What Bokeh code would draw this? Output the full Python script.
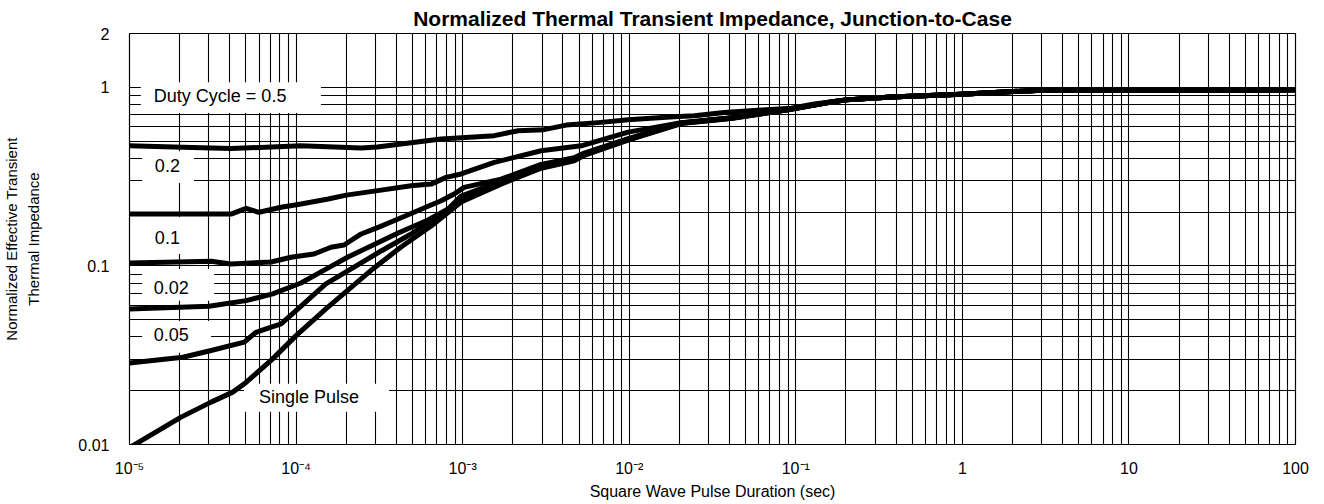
from bokeh.plotting import figure
from bokeh.models import FixedTicker, CustomJSTickFormatter, ColumnDataSource
from bokeh.core.properties import value
from bokeh.embed import file_html
from bokeh.resources import INLINE

FONT = "Liberation Sans"

# ---------------- data ----------------
x_ticks = [1e-5, 1e-4, 1e-3, 1e-2, 1e-1, 1, 10, 100]
x_tick_labels = ["10\u207b\u2075", "10\u207b\u2074", "10\u207b\u00b3", "10\u207b\u00b2", "10\u207b\u00b9", "1", "10", "100"]
y_ticks = [0.01, 0.1, 1, 2]
y_tick_labels = ["0.01", "0.1", "1", "2"]

# Duty cycle 0.5
d05_x = [1.0e-5, 2.09e-5, 4.07e-5, 1.07e-4, 2.46e-4, 3.07e-4, 4.27e-4, 7.43e-4, 1.55e-3, 2.15e-3,
         3.08e-3, 4.19e-3, 6.79e-3, 9.86e-3, 1.86e-2, 2.46e-2, 3.72e-2, 6.21e-2, 9.4e-2, 0.129,
         0.201, 0.374, 0.986, 2.98, 100]
d05_y = [0.470, 0.462, 0.454, 0.470, 0.457, 0.463, 0.481, 0.513, 0.536, 0.571,
         0.579, 0.614, 0.636, 0.658, 0.683, 0.692, 0.723, 0.745, 0.764, 0.806,
         0.850, 0.881, 0.915, 0.963, 0.967]

# Duty cycle 0.2
d02_x = [1.0e-5, 4.07e-5, 5.01e-5, 5.99e-5, 8.13e-5, 1.07e-4, 1.56e-4, 2.0e-4, 3.02e-4, 4.91e-4,
         6.47e-4, 7.96e-4, 9.79e-4, 1.55e-3, 2.96e-3, 5.15e-3, 9.86e-3, 2.05e-2, 4.1e-2, 9.0e-2,
         0.163, 0.201, 0.374, 0.986, 2.98, 100]
d02_y = [0.195, 0.195, 0.210, 0.1995, 0.213, 0.222, 0.237, 0.249, 0.263, 0.281,
         0.287, 0.313, 0.327, 0.380, 0.441, 0.470, 0.561, 0.634, 0.675, 0.752,
         0.828, 0.850, 0.881, 0.915, 0.963, 0.967]

# Duty cycle 0.1
d01_x = [1.0e-5, 3.09e-5, 4.07e-5, 7.08e-5, 9.33e-5, 1.28e-4, 1.62e-4, 1.94e-4, 2.46e-4, 3.11e-4,
         4.10e-4, 5.11e-4, 6.20e-4, 7.43e-4, 8.89e-4, 1.02e-3, 1.70e-3, 2.96e-3, 4.67e-3, 5.37e-3,
         9.86e-3, 2.05e-2, 4.1e-2, 9.0e-2, 0.163, 0.201, 0.374, 0.986, 2.98, 100]
d01_y = [0.1038, 0.1061, 0.1025, 0.1052, 0.1117, 0.1166, 0.1271, 0.1309, 0.1509, 0.1644,
         0.1830, 0.1995, 0.2156, 0.2317, 0.2525, 0.2753, 0.306, 0.370, 0.403, 0.428,
         0.515, 0.632, 0.674, 0.751, 0.827, 0.850, 0.881, 0.915, 0.963, 0.967]

# Curve beneath the "0.02" label
dA_x = [1.0e-5, 3.0e-5, 5.01e-5, 7.24e-5, 1.07e-4, 1.56e-4, 2.05e-4, 2.90e-4, 4.10e-4, 6.20e-4,
        8.18e-4, 9.79e-4, 1.70e-3, 2.96e-3, 4.67e-3, 5.37e-3, 9.86e-3, 2.05e-2, 4.1e-2, 9.0e-2,
        0.163, 0.201, 0.374, 0.986, 2.98, 100]
dA_y = [0.0574, 0.0594, 0.0639, 0.0697, 0.0802, 0.0974, 0.1122, 0.1309, 0.1528, 0.1806,
        0.2082, 0.246, 0.2985, 0.364, 0.398, 0.424, 0.512, 0.630, 0.672, 0.750,
        0.826, 0.850, 0.881, 0.915, 0.963, 0.967]

# Curve beneath the "0.05" label
dB_x = [1.0e-5, 2.09e-5, 3.09e-5, 4.89e-5, 5.75e-5, 6.60e-5, 8.13e-5, 1.0e-4, 1.23e-4, 1.51e-4,
        2.14e-4, 3.24e-4, 4.91e-4, 7.43e-4, 1.05e-3, 1.70e-3, 2.96e-3, 4.67e-3, 5.37e-3, 9.86e-3,
        2.05e-2, 4.1e-2, 9.0e-2, 0.163, 0.201, 0.374, 0.986, 2.98, 100]
dB_y = [0.0286, 0.0308, 0.0336, 0.0374, 0.0425, 0.0444, 0.0473, 0.0562, 0.0668, 0.0792,
        0.0961, 0.1212, 0.1509, 0.195, 0.2399, 0.2946, 0.358, 0.393, 0.420, 0.509,
        0.628, 0.670, 0.749, 0.826, 0.850, 0.881, 0.915, 0.963, 0.967]

# Single pulse
sp_x = [1.0e-5, 2.04e-5, 3.09e-5, 4.17e-5, 4.89e-5, 7.24e-5, 1.0e-4, 1.51e-4, 2.89e-4, 4.27e-4,
        6.47e-4, 9.79e-4, 1.70e-3, 2.96e-3, 4.67e-3, 5.37e-3, 9.86e-3, 2.05e-2, 4.1e-2, 9.0e-2,
        0.163, 0.201, 0.374, 0.986, 2.98, 100]
sp_y = [0.0096, 0.01423, 0.01727, 0.01964, 0.02186, 0.03016, 0.0407, 0.0574, 0.0961, 0.1276,
        0.1673, 0.2278, 0.287, 0.352, 0.388, 0.416, 0.506, 0.626, 0.668, 0.748,
        0.826, 0.850, 0.881, 0.915, 0.963, 0.967]

curves = [(d05_x, d05_y), (d02_x, d02_y), (d01_x, d01_y), (dA_x, dA_y), (dB_x, dB_y), (sp_x, sp_y)]

label_text = ["Duty Cycle = 0.5", "0.2", "0.1", "0.02", "0.05", "Single Pulse"]
label_x = [1.40e-5, 1.42e-5, 1.42e-5, 1.40e-5, 1.40e-5, 5.99e-5]
label_y = [0.89, 0.3635, 0.1433, 0.0759, 0.0411, 0.0185]
box_left = [1.17e-5, 1.19e-5, 1.19e-5, 1.19e-5, 1.19e-5, 4.87e-5]
box_right = [1.41e-4, 2.44e-5, 2.51e-5, 3.22e-5, 3.09e-5, 3.62e-4]
box_top = [1.068, 0.439, 0.1877, 0.0961, 0.0492, 0.0219]
box_bottom = [0.717, 0.2909, 0.1166, 0.0637, 0.0326, 0.01524]

# ---------------- figure ----------------
p = figure(x_axis_type="log", y_axis_type="log", x_range=(1e-5, 100), y_range=(0.01, 2),
           frame_width=1166, frame_height=411,
           min_border_left=124, min_border_right=20, min_border_top=26, min_border_bottom=56,
           output_backend="svg", toolbar_location=None,
           title="Normalized Thermal Transient Impedance, Junction-to-Case")
p.background_fill_color = "white"
p.border_fill_color = "white"
p.outline_line_color = "black"
p.outline_line_width = 1.2

p.title.align = "center"
p.title.text_font = FONT
p.title.text_font_size = "21px"
p.title.text_font_style = "bold"
p.title.text_color = "black"
p.title.standoff = 8

grid_x = [m * 10.0 ** e for e in range(-5, 2) for m in range(1, 10)] + [100]
grid_y = [m * 10.0 ** e for e in range(-2, 0) for m in range(1, 10)] + [1, 2]
p.xgrid.ticker = FixedTicker(ticks=grid_x)
p.ygrid.ticker = FixedTicker(ticks=grid_y)
for g in (p.xgrid, p.ygrid):
    g.grid_line_color = "black"
    g.grid_line_width = 1.1
    g.grid_line_alpha = 1.0

fmt_code = """
const i = tvals.findIndex((t) => Math.abs(Math.log10(t) - Math.log10(tick)) < 1e-6);
return i >= 0 ? tlabels[i] : "";
"""
p.xaxis.ticker = FixedTicker(ticks=x_ticks)
p.yaxis.ticker = FixedTicker(ticks=y_ticks)
p.xaxis.formatter = CustomJSTickFormatter(args=dict(tvals=x_ticks, tlabels=x_tick_labels), code=fmt_code)
p.yaxis.formatter = CustomJSTickFormatter(args=dict(tvals=y_ticks, tlabels=y_tick_labels), code=fmt_code)
for ax in (p.xaxis, p.yaxis):
    ax.axis_line_color = None
    ax.major_tick_line_color = None
    ax.minor_tick_line_color = None
    ax.major_tick_out = 0
    ax.major_tick_in = 0
    ax.minor_tick_out = 0
    ax.minor_tick_in = 0
    ax.major_label_text_font = FONT
    ax.major_label_text_font_size = "16px"
    ax.major_label_text_color = "black"
    ax.axis_label_text_font = FONT
    ax.axis_label_text_font_size = "15px"
    ax.axis_label_text_font_style = "normal"
    ax.axis_label_text_color = "black"

p.xaxis.axis_label = "Square Wave Pulse Duration (sec)"
p.xaxis.axis_label_text_font_size = "16px"
p.xaxis.major_label_standoff = 15
p.xaxis.axis_label_standoff = 3
p.yaxis.axis_label = "Normalized Effective Transient\nThermal Impedance"
p.yaxis.major_label_standoff = 20
p.yaxis.axis_label_standoff = 33
p.yaxis.axis_label_text_line_height = 1.3

# white label boxes
p.quad(left=box_left, right=box_right, top=box_top, bottom=box_bottom,
       fill_color="white", line_color=None)

for cx, cy in curves:
    p.line(cx, cy, line_color="black", line_width=5, line_join="round")

src = ColumnDataSource(dict(x=label_x, y=label_y, t=label_text))
p.text(x="x", y="y", text="t", source=src, text_font=value(FONT), text_font_size="18px",
       text_align="left", text_baseline="middle", text_color="black")

open("out.html", "w").write(file_html(p, INLINE))
